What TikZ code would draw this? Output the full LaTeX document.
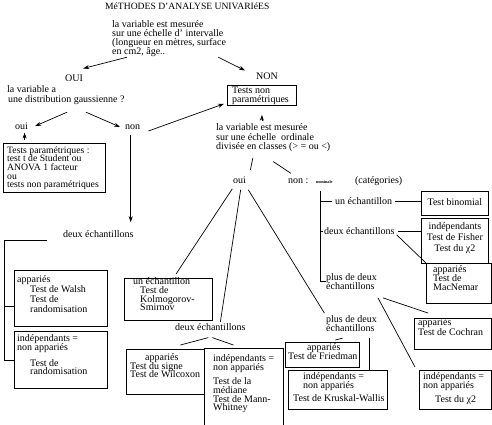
\documentclass[tikz,border=0pt]{standalone}
\usepackage{fontspec}
\setmainfont{Liberation Serif}
\usetikzlibrary{arrows.meta}
\newcommand\tightlines{\lineskiplimit=-5pt\relax}
\tikzset{
    % Text Styles
    txt/.style={inner sep=0pt, anchor=base west, font=\fontsize{10}{9}\selectfont},
    block/.style={inner sep=0pt, anchor=north west, align=left, font=\fontsize{10}{9}\selectfont\tightlines},
    lsp/.style={font=\fontsize{10}{#1}\selectfont\tightlines},
    % Box Style
    testbox/.style={draw, anchor=north west, inner sep=0pt, line width=0.8pt},
    % Line & Arrow Styles
    link/.style={line width=0.7pt},
    arr/.style={link, -{Stealth[length=6pt, width=4pt]}}
}

\begin{document}
\begin{tikzpicture}[x=1pt, y=-1pt]
    \path[use as bounding box, fill=white] (0,0) rectangle (492,424);

    % --- TOP (interval scale question) ---
    \node (title) [txt, font=\fontsize{9.6}{10}\selectfont] at (105,9.8) {MéTHODES D'ANALYSE UNIVARIéES};
    \node (qInterval) [block] at (112,20.7) {la variable est mesurée\\sur une échelle d' intervalle\\(longueur en mètres, surface\\en cm2, âge..};
    \node (ouiTop) [txt] at (65,81.3) {OUI};
    \node (nonTop) [txt] at (256,79.3) {NON};

    % --- LEFT COLUMN (OUI) ---
    \node (qGauss) [block, lsp=10] at (7,85.7) {la variable a\\\hspace{1pt}une distribution gaussienne ?};
    \node (ouiGauss) [txt] at (15,129.3) {oui};
    \node (nonGauss) [txt] at (125,129.3) {non};

    % 1. Parametric tests
    \node (bPar) [testbox, minimum width=102pt, minimum height=49pt] at (3,143) {};
    \node (tPar) [block, font=\fontsize{9.7}{8.7}\selectfont\tightlines] at ([xshift=4pt, yshift=-3.2pt]bPar.north west) {Tests paramétriques :\\test t de Student ou\\ANOVA 1 facteur\\ou\\tests non paramétriques};

    % 2. Two samples (non gaussian)
    \node (deuxL) [txt] at (63,237.3) {deux échantillons};
    \coordinate (brTop) at (47,240);
    \node (bAppL) [testbox, minimum width=93pt, minimum height=56pt] at (14,270) {};
    \node (tAppL) [block, lsp=10] at ([xshift=3pt, yshift=-5.7pt]bAppL.north west) {appariés\\\hspace{13pt}Test de Walsh\\\hspace{13pt}Test de\\\hspace{13pt}randomisation};
    \node (bIndepL) [testbox, minimum width=93pt, minimum height=57pt] at (14,331) {};
    \node (tIndepL) [block, lsp=8.7] at ([xshift=3pt, yshift=-3.7pt]bIndepL.north west) {indépendants =\\non appariés\\[7pt]\hspace{13pt}Test de\\\hspace{13pt}randomisation};

    % --- RIGHT COLUMN (NON) ---
    \node (bNonPar) [testbox, minimum width=69pt, minimum height=20pt] at (227,85) {};
    \node (tNonPar) [block, lsp=9.3] at ([xshift=5pt, yshift=-1.5pt]bNonPar.north west) {Tests non\\paramétriques};
    \node (qOrdinal) [block, lsp=9.5] at (216,123.7) {la variable est mesurée\\sur une échelle\ \ ordinale\\divisée en classes (> = ou <)};
    \node (ouiOrd) [txt] at (233,183.5) {oui};
    \node (nonOrd) [txt] at (288,183.8) {non :\hspace{7.5pt}{\fontsize{4.2}{4}\selectfont\bfseries nominale}\hspace{22.5pt}(catégories)};

    % 3. Ordinal scale: oui
    \node (bKolmo) [testbox, minimum width=88pt, minimum height=42pt] at (124,278) {};
    \node (tKolmo) [block, lsp=8.7] at ([xshift=9pt, yshift=0.3pt]bKolmo.north west) {un échantillon\\\hspace{7pt}Test de\\\hspace{7pt}Kolmogorov-\\\hspace{7pt}Smirnov};
    \node (deuxM) [txt] at (175,330.3) {deux échantillons};
    \node (bWilc) [testbox, minimum width=78pt, minimum height=45pt] at (126,349) {};
    \node (tWilc) [block, lsp=8.7] at ([xshift=4pt, yshift=-4.2pt]bWilc.north west) {\hspace{15pt}appariés\\Test du signe\\Test de Wilcoxon};
    \node (bMann) [testbox, draw=none, minimum width=79pt, minimum height=76pt] at (204,348) {};
    \node (tMann) [block, lsp=8.7] at ([xshift=9pt, yshift=-6.2pt]bMann.north west) {indépendants =\\non appariés\\[6pt]Test de la\\médiane\\Test de Mann-\\Whitney};
    \node (plusM) [block] at (326,315.7) {plus de deux\\échantillons};
    \node (bFried) [testbox, minimum width=74pt, minimum height=25pt] at (285,342) {};
    \node (tFried) [block, lsp=9] at ([xshift=3pt, yshift=-1.7pt]bFried.north west) {\hspace{19pt}appariés\\Test de Friedman};
    \node (bKrusk) [testbox, minimum width=99pt, minimum height=39pt] at (288,370) {};
    \node (tKrusk) [block, lsp=8.7] at ([xshift=5pt, yshift=-2.7pt]bKrusk.north west) {\hspace{10pt}indépendants =\\\hspace{10pt}non appariés\\[4.5pt]Test de Kruskal-Wallis};

    % 4. Ordinal scale: non (nominal)
    \node (unR) [txt] at (335,204.8) {un échantillon};
    \node (deuxR) [txt] at (324,234.5) {deux échantillons};
    \node (plusR) [block, lsp=8.7] at (326,273.7) {plus de deux\\échantillons};
    \node (bBinom) [testbox, minimum width=67pt, minimum height=24pt] at (421,191) {};
    \node (tBinom) [txt, anchor=base] at ([yshift=-14pt]bBinom.north) {Test binomial};
    \node (bFisher) [testbox, minimum width=67pt, minimum height=45pt] at (421,218) {};
    \node (tFisher) [block, lsp=11, anchor=north, align=center] at ([yshift=-4.5pt]bFisher.north) {indépendants\\Test de Fisher\\Test du χ2};
    \node (bMacN) [testbox, fill=white, minimum width=65pt, minimum height=40pt] at (426,263) {};
    \node (tMacN) [block, lsp=8.7] at ([xshift=7pt, yshift=-2.7pt]bMacN.north west) {appariés\\Test de\\MacNemar};
    \node (bCochran) [testbox, minimum width=77pt, minimum height=31pt] at (414,318) {};
    \node (tCochran) [block, lsp=10] at ([xshift=4pt, yshift=-0.7pt]bCochran.north west) {appariés\\Test de Cochran};
    \node (bChi) [testbox, minimum width=72pt, minimum height=39pt] at (419,370) {};
    \node (tChi) [block, lsp=9] at ([xshift=4pt, yshift=-2.7pt]bChi.north west) {indépendants =\\non appariés\\[5pt]\hspace{12pt}Test du χ2};

    % --- Arrows (top and left) ---
    \draw [arr] ([xshift=15pt]qInterval.south west) -- ([yshift=6pt]ouiTop.north east);
    \draw [arr] ([xshift=-8pt]qInterval.south east) -- ([xshift=-11pt, yshift=2pt]nonTop.north west);
    \draw [arr] ([xshift=60pt, yshift=-7pt]qGauss.south west) -- ([xshift=7pt]ouiGauss.east);
    \draw [arr] ([xshift=79pt, yshift=-7pt]qGauss.south west) -- ([xshift=-5pt]nonGauss.west);
    \draw [arr] ([xshift=8pt, yshift=-4pt]nonGauss.east) -- ([xshift=-3pt, yshift=2pt]bNonPar.south west);
    \draw [arr, shorten <=3pt, shorten >=3pt] ([xshift=3pt]bPar.north -| ouiGauss.south) -- ([xshift=3pt]ouiGauss.south);
    \draw [arr, shorten <=5pt, shorten >=8pt] ([xshift=-2pt]nonGauss.south) -- ([xshift=-2pt]nonGauss.south |- deuxL.north);
    \draw [arr, shorten <=3pt, shorten >=9pt] (qOrdinal.north -| bNonPar.south) -- (bNonPar.south);

    % bracket of the two samples
    \draw [link] (brTop) -- ++(-43,0) |- (bIndepL.west);
    \draw [link] ([yshift=-8pt]bAppL.west) -- ++(-10,0);

    % --- Lines (ordinal scale) ---
    \draw [link, shorten <=6pt, shorten >=7pt] ([xshift=38pt]qOrdinal.south west) -- ([xshift=16pt]ouiOrd.north west);
    \draw [link, shorten <=17pt, shorten >=6pt] ([xshift=43pt]qOrdinal.south west) -- ([xshift=8pt]nonOrd.north west);
    \draw [link, shorten <=6pt, shorten >=5pt] ([xshift=-4pt]ouiOrd.south) -- ([xshift=5pt]bKolmo.north);
    \draw [link, shorten <=6pt] ([xshift=2pt]ouiOrd.south) -- ([xshift=10pt, yshift=1pt]deuxM.north);
    \draw [link, shorten <=7pt, shorten >=3pt] ([xshift=5pt]ouiOrd.south) -- (plusM.north west);
    \draw [link] ([xshift=-2pt, yshift=-7pt]deuxM.south) -- ([xshift=15pt, yshift=4pt]bWilc.north);
    \draw [link] ([xshift=2pt, yshift=-7pt]deuxM.south) -- ([xshift=-10.5pt, yshift=3pt]bMann.north);
    \draw [link, line width=0.8pt] (bMann.south west) |- (bMann.north east) -- (bMann.south east);
    \draw [link] ([xshift=-9pt, yshift=-6pt]plusM.south) -- ([xshift=13pt, yshift=2pt]bFried.north);
    \draw [link] ([xshift=18pt, yshift=-6pt]plusM.south) -- ([xshift=18pt]plusM.south |- bKrusk.north);

    % nominal bracket
    \coordinate (catTop) at ([xshift=32pt, yshift=-5pt]nonOrd.south west);
    \draw [link] (catTop) |- (plusR.west);
    \draw [link, shorten >=3pt] (catTop |- unR.west) -- (unR.west);
    \draw [link, shorten >=1.5pt] (catTop |- deuxR.west) -- (deuxR.west);
    \draw [link, shorten <=3pt] (unR.east) -- (unR.east -| bBinom.west);
    \draw [link, shorten <=3pt] (deuxR.east) -- (deuxR.east -| bFisher.west);
    \draw [link] ([xshift=2pt]deuxR.south east) -- (bMacN.north west);
    \draw [link] ([xshift=6pt, yshift=-8pt]plusR.south east) -- ([xshift=14pt, yshift=5pt]bCochran.north west);
    \draw [link] ([xshift=1pt, yshift=-8pt]plusR.south east) -- ([xshift=-4pt, yshift=3pt]bChi.north west);

\end{tikzpicture}
\end{document}
